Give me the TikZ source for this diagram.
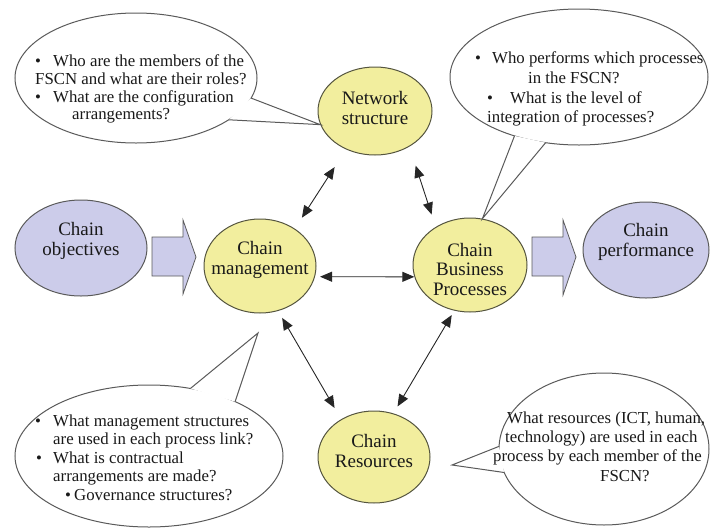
\documentclass[tikz,border=0pt]{standalone}
\usepackage{fontspec}
\setmainfont{Liberation Serif}
\usetikzlibrary{shapes.geometric,arrows.meta,calc}
\definecolor{ylw}{HTML}{F2EE9E}
\definecolor{lav}{HTML}{CCCCEA}
\definecolor{yedge}{HTML}{55553F}
\definecolor{bedge}{HTML}{5A5A5A}
\newcommand\qbul[1]{\makebox[#1pt][l]{\textbullet}}
\begin{document}
\begin{tikzpicture}[x=1pt,y=-1pt,
  yel/.style={ellipse, draw=yedge, line width=1pt, fill=ylw, inner sep=0pt},
  lv/.style={ellipse, draw=bedge, line width=1pt, fill=lav, inner sep=0pt},
  ntext/.style={font=\fontsize{19}{19.5}\selectfont, align=center, text=black!90, inner sep=0pt},
  bubble/.style={draw=bedge, line width=1pt},
  qtext/.style={font=\fontsize{16.8}{18}\selectfont, inner sep=0pt, anchor=base west, text=black!90},
  dbl/.style={draw=black!85, line width=0.9pt, {Triangle[length=12pt,width=10pt]}-{Triangle[length=12pt,width=10pt]}},
  barrow/.style={draw=bedge, line width=0.8pt, fill=lav}]
\useasboundingbox (0,0) rectangle (710,528);

% main nodes
\node[yel, minimum width=114pt, minimum height=88pt, label={[ntext,yshift=3pt]center:Network\\structure}] (NS) at (375,111) {};
\node[lv, minimum width=132pt, minimum height=96pt, label={[ntext,yshift=7pt]center:Chain\\objectives}] (CO) at (81,248) {};
\node[yel, minimum width=112pt, minimum height=94pt, label={[ntext,yshift=6pt]center:Chain\\management}] (CM) at (260,266) {};
\node[yel, minimum width=114pt, minimum height=94pt, label={[ntext,yshift=-4pt]center:Chain\\Business\\Processes}] (CBP) at (470,265) {};
\node[lv, minimum width=126pt, minimum height=96pt, label={[ntext,yshift=8pt]center:Chain\\performance}] (CP) at (646,250) {};
\node[yel, minimum width=112pt, minimum height=92pt, label={[ntext,yshift=6pt]center:Chain\\Resources}] (CR) at (374,457) {};

% block arrows
\draw[barrow] (152,237) -- (183,237) -- (183,220) -- (196,257) -- (183,294) -- (183,276) -- (152,276) -- cycle;
\draw[barrow] (532,237) -- (563,237) -- (563,220) -- (576,257) -- (563,295) -- (563,276) -- (532,276) -- cycle;

% double arrows
\draw[dbl, shorten <=21pt, shorten >=13pt] (NS.233) -- (CM.47);
\draw[dbl, shorten <=20pt, shorten >=13pt] (NS.-46) -- (CBP.132);
\draw[dbl, shorten <=5pt] (CM.-11) -- (CBP.192);
\draw[dbl, shorten <=8pt, shorten >=13pt] (CM.-68) -- (CR.131);
\draw[dbl, shorten <=5pt, shorten >=8pt] (CBP.251) -- (CR.66);

% callout: top left
\coordinate (TLc) at (136,78);
\draw[bubble, fill=white] (TLc) ellipse [x radius=121pt, y radius=65pt];
\fill[white] ($(TLc)+(18:121 and 65)$) -- (NS.194) -- ($(TLc)+(40:121 and 65)$) -- cycle;
\draw[bubble] ($(TLc)+(18:121 and 65)$) -- (NS.194) -- ($(TLc)+(40:121 and 65)$);

% callout: top right
\coordinate (TRc) at (579,77);
\draw[bubble, fill=white] (TRc) ellipse [x radius=129pt, y radius=68pt];
\fill[white] ($(TRc)+(105:129 and 68)$) -- (CBP.75) -- ($(TRc)+(120:129 and 68)$) -- cycle;
\draw[bubble] ($(TRc)+(105:129 and 68)$) -- (CBP.75) -- ($(TRc)+(120:129 and 68)$);

% callout: bottom left
\coordinate (BLc) at (149,456);
\coordinate (BLtip) at (258,333);
\draw[bubble, fill=white] (BLc) ellipse [x radius=134pt, y radius=71pt];
\fill[white] ($(BLc)+(-72:134 and 71)$) -- (BLtip) -- ($(BLc)+(-50:134 and 71)$) -- cycle;
\draw[bubble] ($(BLc)+(-72:134 and 71)$) -- (BLtip) -- ($(BLc)+(-50:134 and 71)$);

% callout: bottom right
\coordinate (BRc) at (604,449);
\coordinate (BRtip) at (452,465);
\draw[bubble, fill=white] (BRc) ellipse [x radius=105pt, y radius=76pt];
\fill[white] ($(BRc)+(182:105 and 76)$) -- (BRtip) -- ($(BRc)+(162:105 and 76)$) -- cycle;
\draw[bubble] ($(BRc)+(182:105 and 76)$) -- (BRtip) -- ($(BRc)+(162:105 and 76)$);

% callout texts
\foreach \n/\x/\y/\t in {
  tla/35/66/{\qbul{18}Who are the members of the},
  tlb/35/84/{FSCN and what are their roles?},
  tlc/35/102/{\qbul{18}What are the configuration},
  tld/72/119/{arrangements?},
  tra/475/63/{\qbul{17}Who performs which processes},
  trb/528/83/{in the FSCN?},
  trc/487/103/{\qbul{23}What is the level of},
  trd/487/122/{integration of processes?},
  bla/35/426/{\qbul{18}What management structures},
  blb/53/444/{are used in each process link?},
  blc/36/463/{\qbul{17}What is contractual},
  bld/53/481/{arrangements are made?},
  ble/65/500/{\qbul{9}Governance structures?},
  bra/507/423/{What resources (ICT, human,},
  brb/505/442/{technology) are used in each},
  brc/493/461/{process by each member of the},
  brd/600/481/{FSCN?}}
  \node[qtext] (\n) at (\x,\y) {\t};
\end{tikzpicture}
\end{document}
